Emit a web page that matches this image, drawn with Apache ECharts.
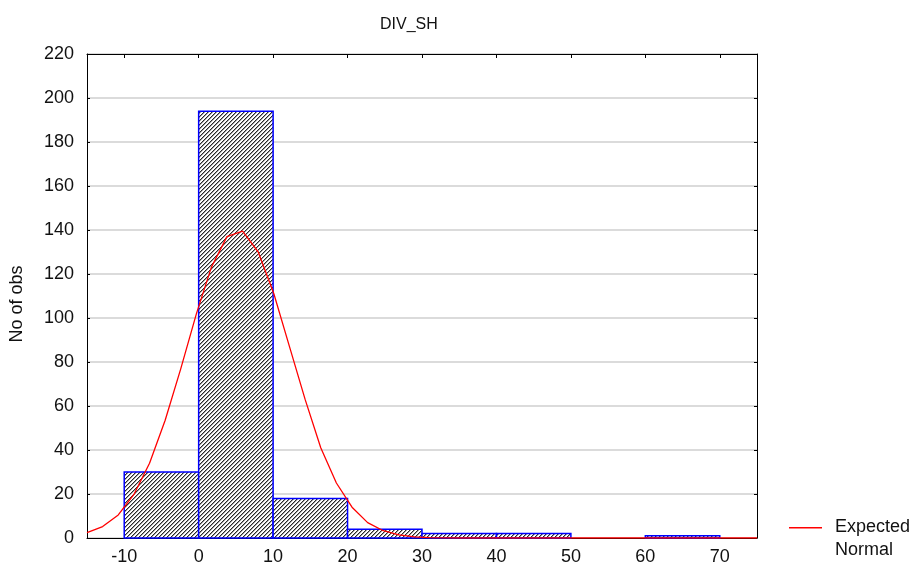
<!DOCTYPE html>
<html>
<head>
<meta charset="utf-8">
<script src="https://cdn.jsdelivr.net/npm/echarts@6/dist/echarts.min.js"></script>
<style>
html,body{margin:0;padding:0;background:#fff;}
#chart{width:916px;height:567px;}
</style>
</head>
<body>
<div id="chart"></div>
<script>
// Histogram bins: [from, to]
const binStart = [-10, 0, 10, 20, 30, 40, 50, 60];
const binEnd   = [0, 10, 20, 30, 40, 50, 60, 70];
const binCount = [30, 194, 18, 4, 2, 2, 0, 1];

// Expected normal curve
const curveX = [-15, -12.9, -10.8, -8.7, -6.6, -4.5, -2.4, -0.3, 1.7, 3.8, 5.9, 8.0, 10.1, 12.2, 14.3, 16.4, 18.5, 20.6, 22.7, 24.8, 26.9, 29.0, 31.0, 33.1, 35.2, 40, 45, 50, 55, 60, 65, 70, 75];
const curveY = [2.4, 5.2, 10.5, 19.8, 34, 53.5, 77, 102, 123, 137, 139.5, 130, 111, 87, 63, 41, 25, 14, 7, 3.3, 1.4, 0.5, 0.2, 0.1, 0, 0, 0, 0, 0, 0, 0, 0, 0];

const xTicks = [-10, 0, 10, 20, 30, 40, 50, 60, 70];

// hatch pattern
const pc = document.createElement('canvas');
pc.width = 4; pc.height = 4;
const g = pc.getContext('2d');
g.fillStyle = '#fff'; g.fillRect(0, 0, 4, 4);
g.fillStyle = '#2a2a2a';
for (let i = 0; i < 4; i++) { g.fillRect(i, 3 - i, 1, 1); }
g.fillStyle = 'rgba(42,42,42,0.45)';
for (let i = 0; i < 4; i++) { g.fillRect((i + 1) % 4, 3 - i, 1, 1); }
const hatch = { image: pc, repeat: 'repeat' };

const barData = binStart.map((s, i) => [s, binEnd[i], binCount[i]]);
const curveData = curveX.map((x, i) => [x, curveY[i]]);

const font = 'Liberation Sans';
const chart = echarts.init(document.getElementById('chart'));
chart.setOption({
  animation: false,
  backgroundColor: '#fff',
  title: {
    text: 'DIV_SH',
    left: 375, top: 12,
    textStyle: { fontFamily: font, fontSize: 16, fontWeight: 'normal', color: '#111' }
  },
  grid: { left: 87, right: 159, top: 54, bottom: 29 },
  legend: {
    left: 784, top: 511,
    itemWidth: 33, itemHeight: 24,
    icon: 'path://M0,0H33V1.5H0Z M0,23.99H0.01V24H0Z',
    data: [{ name: 'Expected Normal' }],
    formatter: () => 'Expected\nNormal',
    textStyle: { fontFamily: font, fontSize: 18, color: '#111', lineHeight: 23, padding: [0, 0, 0, 8] }
  },
  xAxis: [{
    type: 'value', min: -15, max: 75, position: 'bottom',
    axisLine: { onZero: false, lineStyle: { color: '#000', width: 1 } },
    axisTick: { show: false },
    splitLine: { show: false },
    axisLabel: { customValues: xTicks, fontFamily: font, fontSize: 18, color: '#111', margin: 10 }
  }, {
    type: 'value', min: -15, max: 75, position: 'top',
    axisLine: { onZero: false, lineStyle: { color: '#000', width: 1 } },
    axisTick: { inside: true, length: 4, customValues: xTicks, lineStyle: { color: '#000' } },
    axisLabel: { show: false },
    splitLine: { show: false }
  }],
  yAxis: [{
    type: 'value', min: 0, max: 220, interval: 20, position: 'left',
    name: 'No of obs', nameLocation: 'middle', nameGap: 61,
    nameTextStyle: { fontFamily: font, fontSize: 18, color: '#111', padding: [0, 16, 0, 0] },
    axisLine: { show: true, onZero: false, lineStyle: { color: '#000', width: 1 } },
    axisTick: { show: true, inside: true, length: 3, lineStyle: { color: '#000' } },
    splitLine: { show: true, lineStyle: { color: '#cfcfcf', width: 1.5 } },
    axisLabel: { fontFamily: font, fontSize: 18, color: '#111', margin: 13 }
  }, {
    type: 'value', min: 0, max: 220, interval: 20, position: 'right',
    axisLine: { show: true, onZero: false, lineStyle: { color: '#000', width: 1 } },
    axisTick: { show: true, inside: true, length: 3, lineStyle: { color: '#000' } },
    axisLabel: { show: false },
    splitLine: { show: false }
  }],
  series: [{
    type: 'custom',
    name: 'bars',
    xAxisIndex: 0, yAxisIndex: 0,
    encode: { x: [0, 1], y: 2 },
    data: barData,
    z: 2,
    renderItem: function (params, api) {
      const x0 = api.value(0), x1 = api.value(1), v = api.value(2);
      if (!v) return null;
      const p0 = api.coord([x0, v]);
      const p1 = api.coord([x1, 0]);
      return {
        type: 'rect',
        shape: { x: p0[0], y: p0[1], width: p1[0] - p0[0], height: p1[1] - p0[1] },
        style: { fill: hatch, stroke: '#0000ff', lineWidth: 1.5 }
      };
    }
  }, {
    type: 'line',
    name: 'Expected Normal',
    xAxisIndex: 0, yAxisIndex: 0,
    data: curveData,
    symbol: 'none',
    smooth: false,
    z: 5,
    lineStyle: { color: '#ff0000', width: 1.3 },
    itemStyle: { color: '#ff0000' }
  }]
});
</script>
</body>
</html>
